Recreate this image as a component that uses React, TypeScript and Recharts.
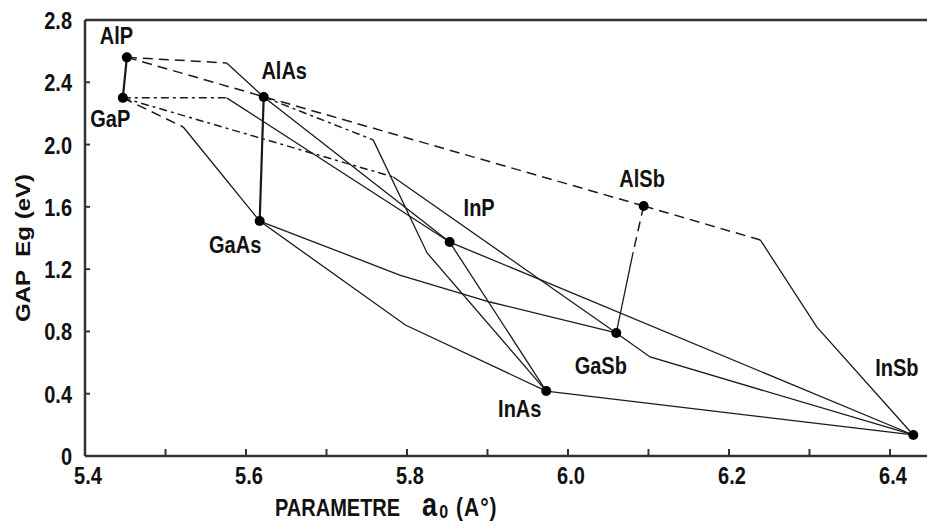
import React from "react";
import { ScatterChart, Scatter, XAxis, YAxis, ReferenceLine, LabelList } from "recharts";

const FONT = "'Liberation Sans', Arial, sans-serif";
const INK = "#1a1a1a";

// binary compounds: lattice parameter a0 (A) and gap Eg (eV)
const AlP = { name: "AlP", x: 5.452, y: 2.56 };
const GaP = { name: "GaP", x: 5.447, y: 2.3 };
const AlAs = { name: "AlAs", x: 5.622, y: 2.306 };
const GaAs = { name: "GaAs", x: 5.617, y: 1.509 };
const InP = { name: "InP", x: 5.853, y: 1.374 };
const AlSb = { name: "AlSb", x: 6.094, y: 1.606 };
const GaSb = { name: "GaSb", x: 6.06, y: 0.79 };
const InAs = { name: "InAs", x: 5.973, y: 0.417 };
const InSb = { name: "InSb", x: 6.429, y: 0.135 };
const COMPOUNDS = [AlP, GaP, AlAs, GaAs, InP, AlSb, GaSb, InAs, InSb];

// direct / indirect crossover points and bends
const alpInpBend = { x: 5.576, y: 2.524 };
const gapInpBend = { x: 5.576, y: 2.3 };
const gapGaasBend = { x: 5.522, y: 2.113 };
const gapGasbBend = { x: 5.783, y: 1.792 };
const alasInasBend = { x: 5.758, y: 2.03 };
const alasInasMid = { x: 5.825, y: 1.304 };
const alsbGasbBend = { x: 6.081, y: 1.31 };
const alsbInsbBend = { x: 6.239, y: 1.387 };
const alsbInsbMid = { x: 6.309, y: 0.829 };
const gasbInsbBend = { x: 6.102, y: 0.636 };
const gaasGasbMid1 = { x: 5.791, y: 1.162 };
const gaasGasbMid2 = { x: 5.903, y: 0.989 };
const gaasInasMid = { x: 5.798, y: 0.841 };

const THICK_LINES = [
  [AlP, GaP],
  [AlAs, GaAs],
];

const SOLID_LINES = [
  [alpInpBend, AlAs, InP],
  [gapInpBend, InP],
  [gapGaasBend, GaAs],
  [gapGasbBend, GaSb],
  [alasInasBend, alasInasMid, InAs],
  [GaAs, gaasGasbMid1, gaasGasbMid2, GaSb],
  [GaAs, gaasInasMid, InAs],
  [InP, InAs],
  [InP, InSb],
  [alsbGasbBend, GaSb],
  [alsbInsbBend, alsbInsbMid, InSb],
  [GaSb, gasbInsbBend, InSb],
  [InAs, InSb],
];

const DASHED_LINES = [
  [AlP, alpInpBend],
  [AlP, AlSb],
  [GaP, gapGaasBend],
  [AlSb, alsbGasbBend],
  [AlSb, alsbInsbBend],
];

const DASHDOT_LINES = [
  [GaP, gapInpBend],
  [GaP, gapGasbBend],
  [AlAs, alasInasBend],
];

const X_TICKS = [5.4, 5.5, 5.6, 5.7, 5.8, 5.9, 6.0, 6.1, 6.2, 6.3, 6.4];
const Y_TICKS = [0, 0.4, 0.8, 1.2, 1.6, 2.0, 2.4, 2.8];

// label offsets in pixels from each dot
const LABEL_OFFSET: Record<string, [number, number]> = {
  AlP: [-6, -17],
  GaP: [-8, 26],
  AlAs: [25, -21],
  GaAs: [-20, 28],
  InP: [34, -30],
  AlSb: [3, -22],
  GaSb: [-11, 38],
  InAs: [-22, 22],
  InSb: [-12, -62],
};

const noShape = () => <g />;

function Dot(props: any) {
  return <circle cx={props.cx} cy={props.cy} r={5} fill="#000" />;
}

function StretchText({ x, y, anchor = "middle", size = 20, children }: any) {
  return (
    <text
      transform={`translate(${x},${y}) scale(1,1.22)`}
      textAnchor={anchor}
      fontFamily={FONT}
      fontWeight="bold"
      fontSize={size}
      fill="#111"
    >
      {children}
    </text>
  );
}

function XTick(props: any) {
  const { x, y, payload } = props;
  const v = payload.value as number;
  const axisY = y - 4;
  const major = Math.round(v * 10) % 2 === 0;
  return (
    <g>
      <line x1={x} x2={x} y1={axisY} y2={axisY - 7} stroke="#333" strokeWidth={2} />
      {major && (
        <StretchText x={x + 3} y={axisY + 28}>
          {v.toFixed(1)}
        </StretchText>
      )}
    </g>
  );
}

function YTick(props: any) {
  const { x, y, payload } = props;
  const v = payload.value as number;
  const axisX = x + 12;
  return (
    <g>
      <line x1={axisX} x2={axisX + 5} y1={y} y2={y} stroke="#333" strokeWidth={2} />
      <StretchText x={axisX - 13} y={y + 9} anchor="end">
        {v === 0 ? "0" : v.toFixed(1)}
      </StretchText>
    </g>
  );
}

function PointLabel(props: any) {
  const { x, y, value } = props;
  const [dx, dy] = LABEL_OFFSET[value] || [0, 0];
  return (
    <StretchText x={x + dx} y={y + dy + 8}>
      {value}
    </StretchText>
  );
}

function XTitle() {
  return (
    <text
      transform="translate(275,516) scale(1,1.2)"
      fontFamily={FONT}
      fontWeight="bold"
      fontSize={20}
      fill="#111"
    >
      PARAMETRE
      <tspan dx={22} fontSize={27}>a</tspan>
      <tspan dx={2} dy={2} fontSize={16}>0</tspan>
      <tspan dx={8} dy={-2} fontSize={21} letterSpacing={1}>(A°)</tspan>
    </text>
  );
}

function YTitle() {
  return (
    <text
      transform="translate(30,248) rotate(-90) scale(1.2,1)"
      textAnchor="middle"
      fontFamily={FONT}
      fontWeight="bold"
      fontSize={20}
      fill="#111"
    >
      GAP{"\u00a0\u00a0"}Eg (eV)
    </text>
  );
}

function segment(pts: any[], key: string, width: number, dash?: string) {
  return (
    <Scatter
      key={key}
      data={pts}
      fill="none"
      shape={noShape}
      line={{ stroke: INK, strokeWidth: width, strokeDasharray: dash }}
      isAnimationActive={false}
      legendType="none"
    />
  );
}

export default function App() {
  return (
    <div style={{ width: 927, height: 522, background: "#fff" }}>
      <style>{"body{margin:0}"}</style>
      <ScatterChart width={927} height={522} margin={{ top: 20, right: 0, left: 0, bottom: 0 }}>
        <XAxis
          type="number"
          dataKey="x"
          domain={[5.4, 6.446]}
          ticks={X_TICKS}
          interval={0}
          allowDataOverflow
          tick={<XTick />}
          tickLine={false}
          tickSize={0}
          tickMargin={4}
          height={66}
          axisLine={{ stroke: "#333", strokeWidth: 2.5 }}
          label={{ content: () => <XTitle /> }}
        />
        <YAxis
          type="number"
          dataKey="y"
          domain={[0, 2.8]}
          ticks={Y_TICKS}
          interval={0}
          allowDataOverflow
          tick={<YTick />}
          tickLine={false}
          tickSize={0}
          tickMargin={12}
          width={85}
          axisLine={{ stroke: "#333", strokeWidth: 2.5 }}
          label={{ content: () => <YTitle /> }}
        />
        <ReferenceLine y={2.8} stroke="#333" strokeWidth={2.5} />
        {THICK_LINES.map((s, i) => segment(s, `t${i}`, 2.2))}
        {SOLID_LINES.map((s, i) => segment(s, `s${i}`, 1.3))}
        {DASHED_LINES.map((s, i) => segment(s, `d${i}`, 1.5, "10 6"))}
        {DASHDOT_LINES.map((s, i) => segment(s, `dd${i}`, 1.5, "8 4 3 4"))}
        <Scatter data={COMPOUNDS} shape={<Dot />} isAnimationActive={false} legendType="none">
          <LabelList dataKey="name" content={<PointLabel />} />
        </Scatter>
      </ScatterChart>
    </div>
  );
}
